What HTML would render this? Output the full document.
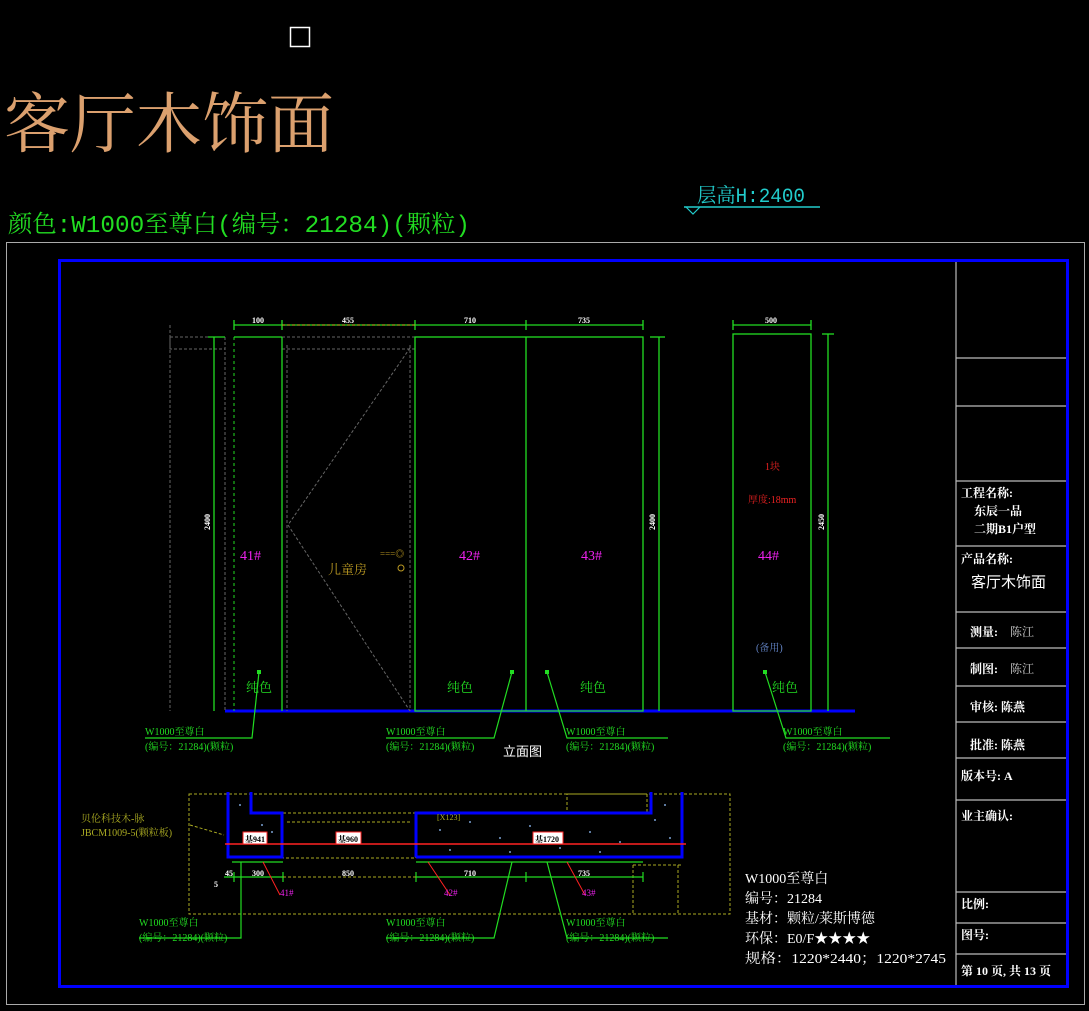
<!DOCTYPE html>
<html><head><meta charset="utf-8"><style>
html,body{margin:0;padding:0;background:#000;}
svg{display:block}
text{font-family:"Liberation Serif","Noto Serif CJK SC",serif;}
.s{font-family:"Liberation Sans","Noto Sans CJK SC",sans-serif;}
.m{font-family:"Liberation Mono","Noto Serif CJK SC",monospace;}
</style></head><body>
<svg width="1089" height="1011" viewBox="0 0 1089 1011" xmlns="http://www.w3.org/2000/svg">
<rect width="1089" height="1011" fill="#000"/>
<rect x="290.5" y="27.5" width="19" height="19" fill="none" stroke="#fff" stroke-width="1.5"/>
<text x="4" y="147" font-size="66" fill="#dba06e">客厅木饰面</text>
<text x="8" y="232" font-size="24" fill="#22dd22" class="m" textLength="462" lengthAdjust="spacingAndGlyphs">颜色:W1000至尊白(编号：21284)(颗粒)</text>
<text x="697" y="202" font-size="20" fill="#22cccc" class="m" textLength="108" lengthAdjust="spacingAndGlyphs">层高H:2400</text>
<line x1="684" y1="207" x2="820" y2="207" stroke="#22cccc" stroke-width="1.5"/>
<path d="M686 207 L693 214 L700 207" fill="none" stroke="#22cccc" stroke-width="1.2"/>

<rect x="6.5" y="242.5" width="1078" height="762" fill="none" stroke="#aaa" stroke-width="1"/>
<rect x="59.5" y="260.5" width="1008" height="726" fill="none" stroke="#0000ff" stroke-width="3"/>

<g stroke="#bbb" stroke-width="1.2">
<line x1="956" y1="262" x2="956" y2="985"/>
<line x1="956" y1="358" x2="1066" y2="358"/>
<line x1="956" y1="406" x2="1066" y2="406"/>
<line x1="956" y1="481" x2="1066" y2="481"/>
<line x1="956" y1="546" x2="1066" y2="546"/>
<line x1="956" y1="612" x2="1066" y2="612"/>
<line x1="956" y1="648" x2="1066" y2="648"/>
<line x1="956" y1="686" x2="1066" y2="686"/>
<line x1="956" y1="722" x2="1066" y2="722"/>
<line x1="956" y1="758" x2="1066" y2="758"/>
<line x1="956" y1="800" x2="1066" y2="800"/>
<line x1="956" y1="892" x2="1066" y2="892"/>
<line x1="956" y1="923" x2="1066" y2="923"/>
<line x1="956" y1="954" x2="1066" y2="954"/>
</g>
<g fill="#fff" font-size="12" font-weight="bold">
<text x="961" y="497">工程名称:</text>
<text x="974" y="515">东辰一品</text>
<text x="974" y="533">二期B1户型</text>
<text x="961" y="563">产品名称:</text>
<text x="971" y="587" font-size="15" font-weight="normal" class="s">客厅木饰面</text>
<text x="970" y="636">测量:</text><text x="1010" y="636" fill="#ccc" font-weight="normal">陈江</text>
<text x="970" y="673">制图:</text><text x="1010" y="673" fill="#ccc" font-weight="normal">陈江</text>
<text x="970" y="711">审核:  陈燕</text>
<text x="970" y="749">批准:  陈燕</text>
<text x="961" y="780">版本号:    A</text>
<text x="961" y="820">业主确认:</text>
<text x="961" y="908">比例:</text>
<text x="961" y="939">图号:</text>
<text x="961" y="975">第 10 页, 共 13 页</text>
</g>

<line x1="225" y1="711" x2="855" y2="711" stroke="#0000ff" stroke-width="3"/>
<g fill="none" stroke="#666" stroke-width="1" stroke-dasharray="3,2">
<line x1="170" y1="325" x2="170" y2="711"/>
<rect x="170" y="337" width="55" height="12"/>
<line x1="225" y1="337" x2="225" y2="711"/>
<rect x="282" y="337" width="133" height="12"/>
<line x1="287" y1="345" x2="287" y2="711"/>
<line x1="410" y1="345" x2="410" y2="711"/>
<path d="M410 348 L288 525 L410 711"/>
</g>
<g fill="none" stroke="#22dd22" stroke-width="1.3">
<rect x="415" y="337" width="228" height="374"/>
<line x1="526" y1="337" x2="526" y2="711"/>
<line x1="234" y1="337" x2="282" y2="337"/>
<line x1="282" y1="337" x2="282" y2="711"/>
<line x1="214" y1="337" x2="214" y2="711"/>
<line x1="208" y1="337" x2="225" y2="337"/>
<line x1="659" y1="337" x2="659" y2="711"/>
<line x1="650" y1="337" x2="665" y2="337"/>
<rect x="733" y="334" width="78" height="377"/>
<line x1="828" y1="334" x2="828" y2="711"/>
<line x1="822" y1="334" x2="834" y2="334"/>
<line x1="234" y1="325" x2="643" y2="325"/>
<line x1="733" y1="325" x2="811" y2="325"/>
<path d="M234 320v10M282 320v10M415 320v10M526 320v10M643 320v10M733 320v10M811 320v10"/>
</g>
<line x1="234" y1="337" x2="234" y2="711" stroke="#22dd22" stroke-dasharray="3,3"/>
<line x1="282" y1="325" x2="415" y2="325" stroke="#cc9922" stroke-dasharray="3,2"/>
<g fill="#fff" font-size="8" font-weight="bold">
<text x="252" y="323">100</text><text x="342" y="323">455</text><text x="464" y="323">710</text><text x="578" y="323">735</text><text x="765" y="323">500</text>
<text x="210" y="530" transform="rotate(-90 210 530)">2400</text>
<text x="655" y="530" transform="rotate(-90 655 530)">2400</text>
<text x="824" y="530" transform="rotate(-90 824 530)">2450</text>
</g>
<g fill="#ee22ee" font-size="14" class="s">
<text x="240" y="560">41#</text><text x="459" y="560">42#</text><text x="581" y="560">43#</text><text x="758" y="560">44#</text>
</g>
<text x="328" y="574" fill="#bb9922" font-size="13">儿童房</text>
<text x="380" y="557" fill="#bb9922" font-size="9">===◎</text>
<circle cx="401" cy="568" r="3" fill="none" stroke="#bb9922"/>
<text x="765" y="470" fill="#ee2222" font-size="10">1块</text>
<text x="748" y="503" fill="#ee2222" font-size="10">厚度:18mm</text>
<text x="756" y="651" fill="#6688cc" font-size="10">(备用)</text>
<g fill="#22dd22" font-size="13">
<text x="246" y="692">纯色</text><text x="447" y="692">纯色</text><text x="580" y="692">纯色</text><text x="772" y="692">纯色</text>
</g>
<g fill="none" stroke="#22dd22" stroke-width="1.2">
<path d="M259 672 L252 738 L145 738"/>
<path d="M512 672 L494 738 L386 738"/>
<path d="M547 672 L567 738 L668 738"/>
<path d="M765 672 L786 738 L890 738"/>
</g>
<g fill="#22dd22"><rect x="257" y="670" width="4" height="4"/><rect x="510" y="670" width="4" height="4"/><rect x="545" y="670" width="4" height="4"/><rect x="763" y="670" width="4" height="4"/></g>
<g fill="#22dd22" font-size="10" class="m">
<text x="145" y="735">W1000至尊白</text><text x="145" y="750">(编号：21284)(颗粒)</text>
<text x="386" y="735">W1000至尊白</text><text x="386" y="750">(编号：21284)(颗粒)</text>
<text x="566" y="735">W1000至尊白</text><text x="566" y="750">(编号：21284)(颗粒)</text>
<text x="783" y="735">W1000至尊白</text><text x="783" y="750">(编号：21284)(颗粒)</text>
</g>
<text x="503" y="756" fill="#fff" font-size="13" class="s">立面图</text>

<g fill="none" stroke="#aaaa22" stroke-width="1" stroke-dasharray="3,2">
<rect x="189" y="794" width="541" height="120"/>
<rect x="283" y="813" width="133" height="45"/>
<line x1="287" y1="822" x2="412" y2="822"/>
<rect x="567" y="794" width="80" height="18"/>
<line x1="633" y1="865" x2="633" y2="914"/>
<line x1="678" y1="865" x2="678" y2="914"/>
<line x1="633" y1="865" x2="683" y2="865"/>
<path d="M190 825 L224 835"/>
</g>
<g fill="#7aa0d0">
<circle cx="240" cy="805" r="1"/><circle cx="262" cy="825" r="1"/><circle cx="245" cy="838" r="1"/><circle cx="272" cy="832" r="1"/>
<circle cx="440" cy="830" r="1"/><circle cx="470" cy="822" r="1"/><circle cx="500" cy="838" r="1"/><circle cx="530" cy="826" r="1"/><circle cx="560" cy="848" r="1"/><circle cx="590" cy="832" r="1"/><circle cx="620" cy="842" r="1"/><circle cx="655" cy="820" r="1"/><circle cx="670" cy="838" r="1"/><circle cx="450" cy="850" r="1"/><circle cx="510" cy="852" r="1"/><circle cx="600" cy="852" r="1"/><circle cx="665" cy="805" r="1"/>
</g>
<g fill="none" stroke="#0000ff" stroke-width="3">
<path d="M228 792 L228 857 L282 857 L282 813 L251 813 L251 792"/>
<path d="M416 857 L416 813 L651 813 L651 792"/>
<path d="M682 792 L682 857 L416 857"/>
</g>
<line x1="225" y1="844" x2="686" y2="844" stroke="#ff2222" stroke-width="1.5"/>
<g fill="#fff" stroke="#ff2222" stroke-width="1"><rect x="243" y="832" width="24" height="12"/><rect x="336" y="832" width="25" height="12"/><rect x="533" y="832" width="30" height="12"/></g>
<g fill="#000" font-size="8" font-weight="bold"><text x="245" y="842">基941</text><text x="338" y="842">基960</text><text x="535" y="842">基1720</text></g>
<text x="437" y="820" fill="#aaaa22" font-size="8">[X123]</text>
<g stroke="#22dd22" stroke-width="1.2" fill="none">
<line x1="232" y1="862" x2="283" y2="862"/>
<line x1="416" y1="862" x2="643" y2="862"/>
<line x1="224" y1="877" x2="283" y2="877"/>
<line x1="416" y1="877" x2="643" y2="877"/>
<path d="M283 872v10M416 872v10M526 872v10M643 872v10M234 872v10"/>
<path d="M241 862 L241 938 L139 938"/>
<path d="M512 862 L494 938 L386 938"/>
<path d="M547 862 L567 938 L668 938"/>
</g>
<line x1="283" y1="877" x2="416" y2="877" stroke="#aaaa22" stroke-dasharray="3,2"/>
<g stroke="#ff2222" stroke-width="1"><path d="M263 862 L280 895"/><path d="M428 862 L450 895"/><path d="M567 862 L585 895"/></g>
<g fill="#ee22ee" font-size="9"><text x="280" y="896">41#</text><text x="444" y="896">42#</text><text x="582" y="896">43#</text></g>
<g fill="#fff" font-size="8" font-weight="bold">
<text x="225" y="876">45</text><text x="252" y="876">300</text><text x="342" y="876">850</text><text x="464" y="876">710</text><text x="578" y="876">735</text><text x="214" y="887">5</text>
</g>
<g fill="#aaaa22" font-size="10" class="m"><text x="81" y="822">贝伦科技木-脉</text><text x="81" y="836">JBCM1009-5(颗粒板)</text></g>
<g fill="#22dd22" font-size="10" class="m">
<text x="139" y="926">W1000至尊白</text><text x="139" y="941">(编号：21284)(颗粒)</text>
<text x="386" y="926">W1000至尊白</text><text x="386" y="941">(编号：21284)(颗粒)</text>
<text x="566" y="926">W1000至尊白</text><text x="566" y="941">(编号：21284)(颗粒)</text>
</g>
<g fill="#fff" font-size="14" class="m">
<text x="745" y="883">W1000至尊白</text>
<text x="745" y="903">编号：21284</text>
<text x="745" y="923">基材：颗粒/莱斯博德</text>
<text x="745" y="943">环保：E0/F★★★★</text>
<text x="745" y="963" textLength="201" lengthAdjust="spacingAndGlyphs">规格：1220*2440；1220*2745</text>
</g>
</svg>
</body></html>
